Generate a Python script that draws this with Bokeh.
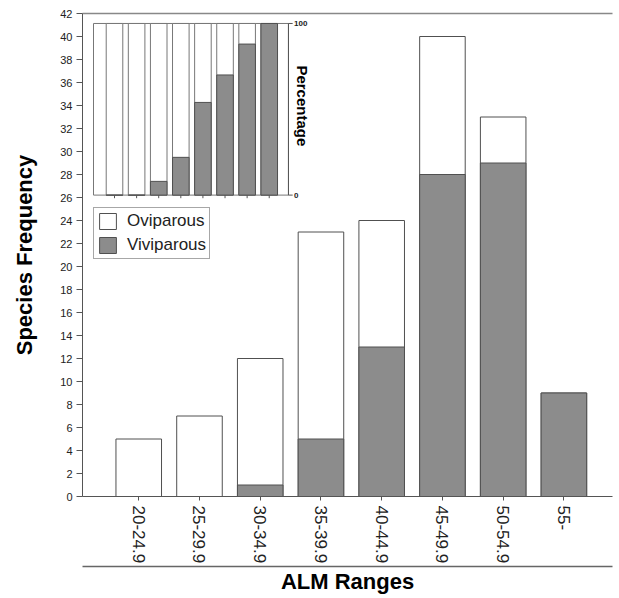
import math
from bokeh.plotting import figure
from bokeh.models import (ColumnDataSource, Range1d, LinearAxis, FixedTicker,
                          Legend, LegendItem)
from bokeh.core.properties import value
from bokeh.embed import file_html
from bokeh.resources import INLINE

# ---- data ----
categories = ["20-24.9", "25-29.9", "30-34.9", "35-39.9",
              "40-44.9", "45-49.9", "50-54.9", "55-"]
total = [5, 7, 12, 23, 24, 40, 33, 9]          # all species per range
viviparous = [0, 0, 1, 5, 13, 28, 29, 9]       # viviparous species per range
vivi_pct = [0, 0, 8, 22, 54, 70, 88, 100]      # inset: % viviparous
y_ticks = list(range(0, 43, 2))
pct_ticks = [0, 100]
pct_tick_labels = ["0", "100"]

FONT = "Liberation Sans"
GREY = "#8c8c8c"
EDGE = "#505050"
AXIS = "#555555"
TXT = "#222222"

xpos = list(range(len(categories)))

p = figure(width=615, height=596, output_backend="svg", toolbar_location=None,
           x_range=Range1d(-0.926, 7.80), y_range=Range1d(0, 42),
           min_border_left=82, min_border_right=3, min_border_top=13,
           min_border_bottom=98)
p.outline_line_color = None
p.grid.visible = False
p.background_fill_color = "white"
p.border_fill_color = "white"

# extra ranges used to place the inset inside the frame
p.extra_x_ranges = {"ix": Range1d(-1.448, 22.53)}
p.extra_y_ranges = {"iy": Range1d(-175.6, 105.81)}

src = ColumnDataSource(dict(x=xpos, total=total, vivi=viviparous,
                            pct=vivi_pct, full=[100] * len(xpos)))

# ---- main bars ----
r_white = p.vbar(x="x", top="total", width=0.75, source=src,
                 fill_color="white", line_color=EDGE, line_width=1)
r_grey = p.vbar(x="x", top="vivi", width=0.75, source=src,
                fill_color=GREY, line_color=EDGE, line_width=1)

# ---- inset ----
p.quad(left=-0.95, right=7.87, bottom=0, top=100, x_range_name="ix",
       y_range_name="iy", fill_color="white", line_color="#777777",
       line_width=1)
p.vbar(x="x", top="full", width=0.75, source=src, x_range_name="ix",
       y_range_name="iy", fill_color="white", line_color="#777777",
       line_width=1)
p.vbar(x="x", top="pct", width=0.75, source=src, x_range_name="ix",
       y_range_name="iy", fill_color=GREY, line_color=EDGE, line_width=1)
# inset right axis
p.segment(x0=7.87, x1=7.87, y0=0, y1=100, x_range_name="ix",
          y_range_name="iy", line_color=AXIS, line_width=1)
p.segment(x0=7.87, x1=8.06, y0=pct_ticks, y1=pct_ticks, x_range_name="ix",
          y_range_name="iy", line_color=AXIS, line_width=1)
p.text(x=8.12, y=pct_ticks, text=pct_tick_labels, x_range_name="ix",
       y_range_name="iy", text_font=value(FONT), text_font_size="8px",
       text_font_style="bold", text_baseline="middle", text_align="left",
       text_color=TXT)
p.text(x=8.5, y=52, text=["Percentage"], angle=-math.pi / 2,
       x_range_name="ix", y_range_name="iy", text_font=value(FONT),
       text_font_size="15px", text_font_style="bold", text_align="center",
       text_baseline="middle", text_color="black")
# inset bottom ticks
p.segment(x0="x", x1="x", y0=0, y1=-1.8, source=src, x_range_name="ix",
          y_range_name="iy", line_color=AXIS, line_width=1)

# ---- axes ----
ya = p.yaxis[0]
ya.ticker = FixedTicker(ticks=y_ticks)
ya.major_label_text_font = FONT
ya.major_label_text_font_size = "11px"
ya.major_label_text_color = TXT
ya.major_tick_out = 6
ya.major_tick_in = 0
ya.minor_tick_out = 0
ya.minor_tick_in = 0
ya.axis_line_color = AXIS
ya.major_tick_line_color = AXIS
ya.major_label_standoff = 4
ya.axis_label = "Species Frequency"
ya.axis_label_text_font = FONT
ya.axis_label_text_font_size = "22px"
ya.axis_label_text_font_style = "bold"
ya.axis_label_text_color = "black"
ya.axis_label_standoff = 20

xa = p.xaxis[0]
xa.ticker = FixedTicker(ticks=xpos)
xa.major_label_overrides = {i: c for i, c in zip(xpos, categories)}
xa.major_label_orientation = -math.pi / 2
xa.major_label_text_font = FONT
xa.major_label_text_font_size = "17px"
xa.major_label_text_color = TXT
xa.major_tick_out = 4
xa.major_tick_in = 0
xa.minor_tick_out = 0
xa.minor_tick_in = 0
xa.major_label_standoff = 5
xa.axis_line_color = AXIS
xa.major_tick_line_color = AXIS

xa2 = LinearAxis(ticker=FixedTicker(ticks=[]), axis_label="ALM Ranges",
                 major_tick_out=0, major_tick_in=0, minor_tick_out=0,
                 minor_tick_in=0, major_label_text_font_size="0px",
                 axis_line_color="#666666", axis_line_width=1.5)
xa2.axis_label_text_font = FONT
xa2.axis_label_text_font_size = "22px"
xa2.axis_label_text_font_style = "bold"
xa2.axis_label_text_color = "black"
xa2.axis_label_standoff = 2
p.add_layout(xa2, "below")

top_ax = LinearAxis(ticker=FixedTicker(ticks=[]), major_tick_out=0,
                    major_tick_in=0, minor_tick_out=0, minor_tick_in=0,
                    major_label_text_font_size="0px",
                    axis_line_color="#888888", axis_line_width=1.5)
p.add_layout(top_ax, "above")

# ---- legend ----
legend = Legend(items=[LegendItem(label="Oviparous", renderers=[r_white]),
                       LegendItem(label="Viviparous", renderers=[r_grey])],
                location=(11, 237))
legend.border_line_color = EDGE
legend.border_line_width = 1
legend.background_fill_color = "white"
legend.padding = 3
legend.spacing = 4
legend.margin = 0
legend.glyph_height = 20
legend.glyph_width = 21
legend.label_standoff = 9
legend.label_text_font = FONT
legend.label_text_font_size = "17px"
legend.label_text_color = TXT
p.add_layout(legend)

open("out.html", "w").write(file_html(p, INLINE))
